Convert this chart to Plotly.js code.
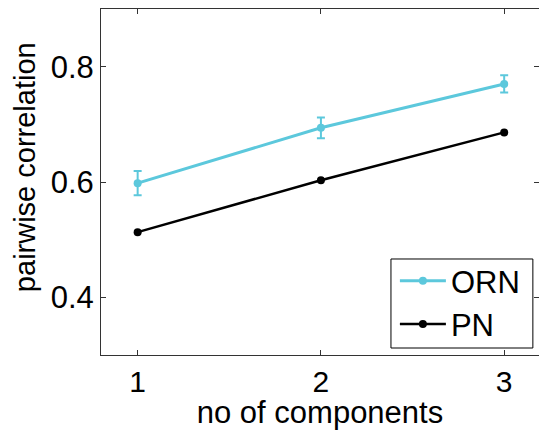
<!DOCTYPE html>
<html>
<head>
<meta charset="utf-8">
<script src="https://cdn.plot.ly/plotly-3.0.1.min.js"></script>
<style>html,body{margin:0;padding:0;background:#fff;}#chart{width:539px;height:430px;}</style>
</head>
<body>
<div id="chart"></div>
<script>
const components = [1, 2, 3];
const ornMean = [0.598, 0.694, 0.770];
const ornErr = [0.021, 0.018, 0.015];
const pnMean = [0.513, 0.603, 0.686];
const xTicks = [1, 2, 3];
const yTicks = [0.4, 0.6, 0.8];
const yTickLabels = ['0.4', '0.6', '0.8'];

const cyan = '#5CC8DC';
const FONT = 'Liberation Sans, Arial, sans-serif';

const traces = [
  {
    x: components, y: ornMean, name: 'ORN', type: 'scatter', mode: 'lines+markers',
    line: {color: cyan, width: 3},
    marker: {color: cyan, size: 8},
    error_y: {type: 'data', array: ornErr, visible: true, color: cyan, thickness: 2, width: 4}
  },
  {
    x: components, y: pnMean, name: 'PN', type: 'scatter', mode: 'lines+markers',
    line: {color: '#000000', width: 2.5},
    marker: {color: '#000000', size: 8}
  }
];

const layout = {
  width: 539, height: 430,
  margin: {l: 101, r: 0, t: 9, b: 75},
  paper_bgcolor: '#ffffff', plot_bgcolor: '#ffffff',
  font: {family: FONT, size: 31, color: '#000'},
  showlegend: true,
  legend: {
    x: 0.671, xanchor: 'left', y: 0.0113, yanchor: 'bottom',
    bgcolor: 'rgba(0,0,0,0)', borderwidth: 0,
    font: {family: FONT, size: 31, color: '#000'},
    itemwidth: 46,
    tracegroupgap: 0
  },
  shapes: [{
    type: 'rect', xref: 'paper', yref: 'paper',
    x0: 0.662, x1: 0.986, y0: 0.0202, y1: 0.2775,
    line: {color: '#000', width: 1}, fillcolor: '#ffffff', layer: 'below'
  }],
  xaxis: {
    range: [0.8, 3.19], tickvals: xTicks, ticktext: xTicks.map(String),
    ticks: 'inside', ticklen: 5, tickcolor: '#333', tickwidth: 1,
    showline: true, linecolor: '#333', linewidth: 1, mirror: 'ticks',
    showgrid: false, zeroline: false,
    tickfont: {family: FONT, size: 30},
    title: {text: 'no of components', font: {family: FONT, size: 31}, standoff: 5}
  },
  yaxis: {
    range: [0.3, 0.9], tickvals: yTicks, ticktext: yTickLabels,
    ticks: 'inside', ticklen: 5, tickcolor: '#333', tickwidth: 1,
    showline: true, linecolor: '#333', linewidth: 1, mirror: 'ticks',
    showgrid: false, zeroline: false,
    tickfont: {family: FONT, size: 31}
  },
  annotations: [{
    text: 'pairwise correlation', textangle: -90,
    xref: 'paper', yref: 'paper', x: -0.1735, y: 0.543,
    xanchor: 'center', yanchor: 'middle', showarrow: false,
    font: {family: FONT, size: 29, color: '#000'}
  }]
};

Plotly.newPlot('chart', traces, layout, {displayModeBar: false, staticPlot: true});
</script>
</body>
</html>
